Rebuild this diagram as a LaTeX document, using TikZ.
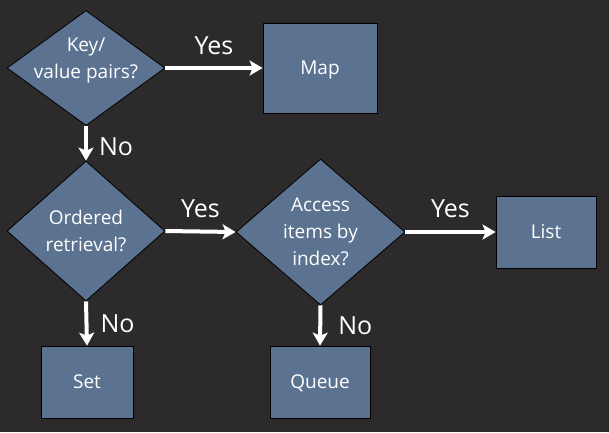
\documentclass[tikz,border=0pt]{standalone}
\usepackage{fontspec}
\setmainfont{Open Sans}
\usetikzlibrary{shapes.geometric,arrows.meta}
\definecolor{bgcol}{RGB}{45,42,43}
\definecolor{boxcol}{RGB}{91,115,144}
\tikzset{
  x=1pt,y=-1pt,
  txt/.style={text=white,font=\fontsize{19}{27}\selectfont,align=center},
  decision/.style={txt,shape=diamond,draw=black,line width=0.8pt,fill=boxcol,inner xsep=-30pt,inner ysep=-20pt},
  boxnode/.style={txt,shape=rectangle,draw=black,line width=0.8pt,fill=boxcol,inner sep=0pt,text height=12pt,text depth=0pt},
  arr/.style={draw=white,line width=4pt,-{Stealth[length=13pt,width=15pt,inset=3pt]}},
  lbl/.style={text=white,font=\fontsize{25}{30}\selectfont,inner sep=0pt}
}
\begin{document}
\begin{tikzpicture}
\fill[bgcol] (0,0) rectangle (609,432);
\useasboundingbox (0,0) rectangle (609,432);
\node[decision,minimum width=158pt,minimum height=115pt,text depth=20pt] (d1) at (86,68) {Key/\\value pairs?};
\node[boxnode,minimum width=114pt,minimum height=90pt] (map) at (320,68) {Map};
\node[decision,minimum width=158pt,minimum height=140pt] (d2) at (86,231) {Ordered\\retrieval?};
\node[decision,minimum width=169pt,minimum height=146pt] (d3) at (320.5,232) {Access\\items by\\index?};
\node[boxnode,minimum width=92pt,minimum height=72pt] (set) at (87,382) {Set};
\node[boxnode,minimum width=100pt,minimum height=72pt] (queue) at (320,382) {Queue};
\node[boxnode,minimum width=100pt,minimum height=72pt] (list) at (546,232) {List};
\draw[arr] (d1.east) -- node[lbl,midway,above=11pt] {Yes} (map.west);
\draw[arr] (d1.south) -- node[lbl,midway,right=11pt,yshift=-3pt] {No} (d2.north);
\draw[arr] (d2.east) -- node[lbl,midway,above=12pt] {Yes} (d3.west);
\draw[arr] (d3.east) -- node[lbl,midway,above=12pt] {Yes} (list.west);
\draw[arr] (d2.south) -- node[lbl,midway,right=12pt] {No} (set.north);
\draw[arr] (d3.south) -- node[lbl,midway,right=16pt] {No} (queue.north);
\end{tikzpicture}
\end{document}
